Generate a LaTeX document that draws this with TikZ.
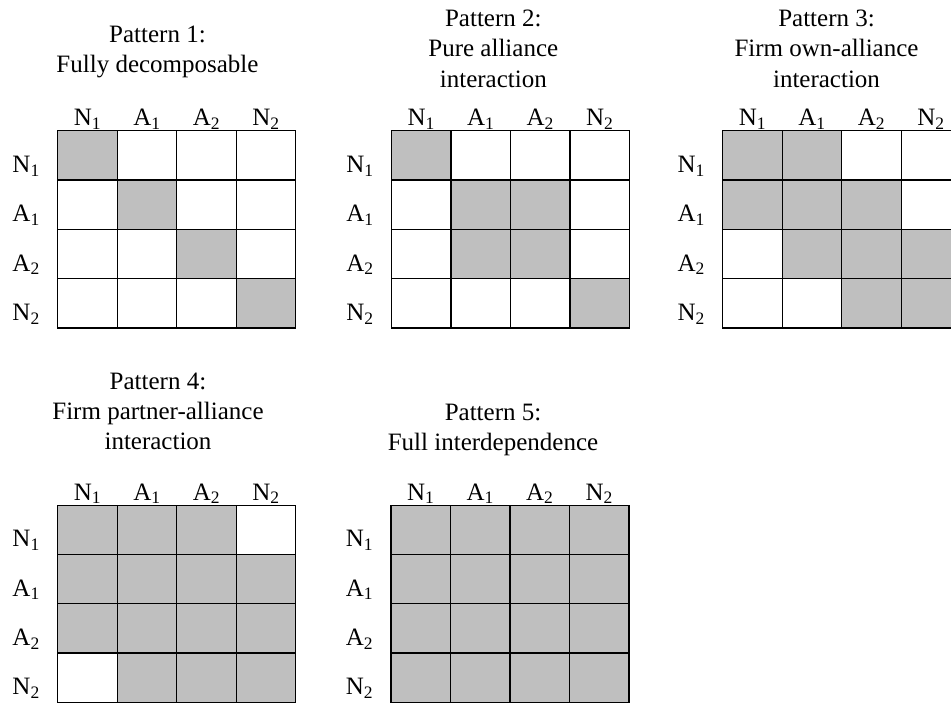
\documentclass[tikz,border=0pt]{standalone}
\usepackage{fontspec}
\setmainfont{Liberation Serif}
\tikzset{
  txt/.style={font=\fontsize{25}{30}\selectfont, inner sep=0pt, anchor=base},
  rowlab/.style={txt, anchor=base west},
  cellfill/.style={fill=black!25},
  gridline/.style={draw=black, line width=1.3pt, line cap=rect}
}
\newcommand\cw{59.5}
\newcommand\ch{49.3}
% #1 x0, #2 y0 (top-left of grid), #3 name, #4 shaded cells r/c
\newcommand\drawmatrix[4]{%
  \foreach \r/\c in {#4} {%
    \fill[cellfill] ({#1+(\c-1)*\cw},{#2+(\r-1)*\ch}) rectangle ({#1+\c*\cw},{#2+\r*\ch});
  }
  \foreach \i in {0,...,4} {%
    \draw[gridline] ({#1},{#2+\i*\ch}) -- ({#1+4*\cw},{#2+\i*\ch});
    \draw[gridline] ({#1+\i*\cw},{#2}) -- ({#1+\i*\cw},{#2+4*\ch});
  }
  \foreach \lab [count=\k] in {N\textsubscript{1},A\textsubscript{1},A\textsubscript{2},N\textsubscript{2}} {%
    \node[txt] (#3-h\k) at ({#1+(\k-0.5)*\cw},{#2-5}) {\lab};
    \node[rowlab] (#3-r\k) at ({#1-45.4},{#2+\k*\ch-7.6}) {\lab};
  }
}
\begin{document}
\begin{tikzpicture}[x=1pt,y=-1pt]
\useasboundingbox (0,0) rectangle (951,704);
\clip (0,0) rectangle (951,704);
\fill[white] (0,0) rectangle (951,704);

% Pattern 1
\node[txt] (t1a) at (157.5,42.5) {Pattern 1:};
\node[txt] (t1b) at (157.5,72.3) {Fully decomposable};
\drawmatrix{57.7}{130.7}{m1}{1/1,2/2,3/3,4/4}

% Pattern 2
\node[txt] (t2a) at (493.3,26.7) {Pattern 2:};
\node[txt] (t2b) at (493.3,56.9) {Pure alliance};
\node[txt] (t2c) at (493.3,87.3) {interaction};
\drawmatrix{391.5}{130.7}{m2}{1/1,2/2,2/3,3/2,3/3,4/4}

% Pattern 3
\node[txt] (t3a) at (826.5,26.7) {Pattern 3:};
\node[txt] (t3b) at (826.5,56.9) {Firm own-alliance};
\node[txt] (t3c) at (826.5,87.3) {interaction};
\drawmatrix{722.7}{130.7}{m3}{1/1,1/2,2/1,2/2,2/3,3/2,3/3,3/4,4/3,4/4}

% Pattern 4
\node[txt] (t4a) at (158,389.3) {Pattern 4:};
\node[txt] (t4b) at (158,419.3) {Firm partner-alliance};
\node[txt] (t4c) at (158,449.5) {interaction};
\drawmatrix{57.7}{505.2}{m4}{1/1,1/2,1/3,2/1,2/2,2/3,2/4,3/1,3/2,3/3,3/4,4/2,4/3,4/4}

% Pattern 5
\node[txt] (t5a) at (493,420) {Pattern 5:};
\node[txt] (t5b) at (493,450) {Full interdependence};
\drawmatrix{391}{505.2}{m5}{1/1,1/2,1/3,1/4,2/1,2/2,2/3,2/4,3/1,3/2,3/3,3/4,4/1,4/2,4/3,4/4}
\end{tikzpicture}
\end{document}
